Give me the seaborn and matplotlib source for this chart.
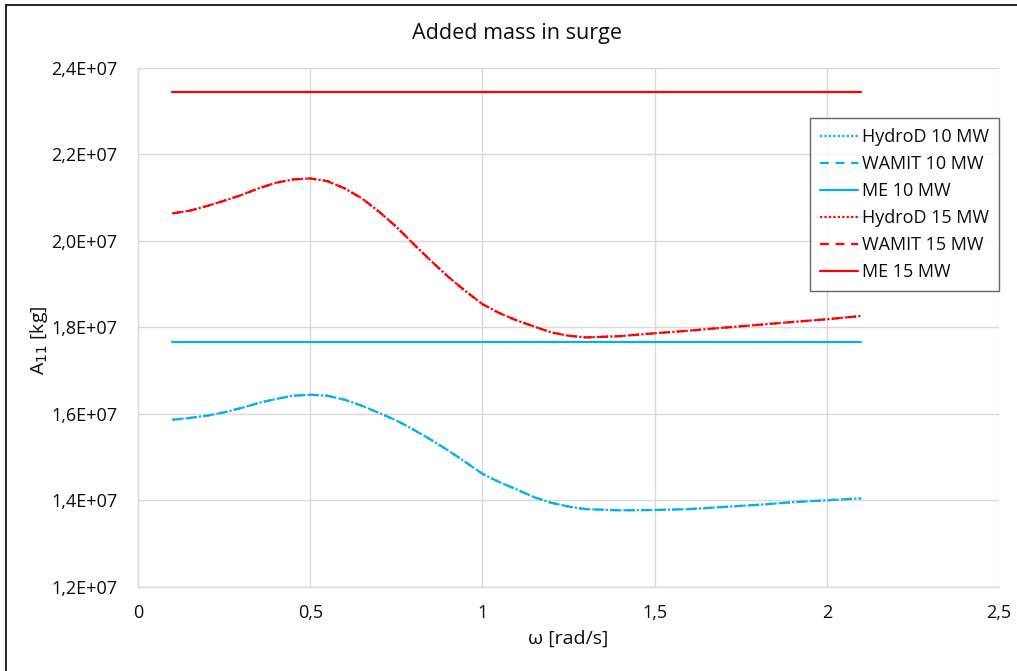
import numpy as np
import pandas as pd
import seaborn as sns
import matplotlib
matplotlib.use("Agg")
import matplotlib.pyplot as plt
from matplotlib.ticker import FuncFormatter, MultipleLocator
from matplotlib.lines import Line2D

# ---- data ----
omega = [0.10, 0.15, 0.20, 0.25, 0.30, 0.35, 0.40, 0.45, 0.50, 0.55, 0.60, 0.65,
         0.70, 0.75, 0.80, 0.85, 0.90, 0.95, 1.00, 1.05, 1.10, 1.15, 1.20, 1.25,
         1.30, 1.40, 1.50, 1.60, 1.70, 1.80, 1.90, 2.00, 2.10]
a11_10mw = [1.5868e7, 1.5908e7, 1.5961e7, 1.6037e7, 1.6138e7, 1.6254e7, 1.6346e7,
            1.6422e7, 1.6445e7, 1.6422e7, 1.6330e7, 1.6191e7, 1.6023e7, 1.5852e7,
            1.5638e7, 1.5407e7, 1.5160e7, 1.4893e7, 1.4616e7, 1.4422e7, 1.4254e7,
            1.4076e7, 1.3947e7, 1.3860e7, 1.3800e7, 1.3773e7, 1.3780e7, 1.3800e7,
            1.3850e7, 1.3900e7, 1.3960e7, 1.4005e7, 1.4050e7]
a11_15mw = [2.0639e7, 2.0700e7, 2.0807e7, 2.0930e7, 2.1061e7, 2.1216e7, 2.1345e7,
            2.1423e7, 2.1446e7, 2.1384e7, 2.1216e7, 2.0985e7, 2.0677e7, 2.0330e7,
            1.9931e7, 1.9546e7, 1.9177e7, 1.8846e7, 1.8540e7, 1.8330e7, 1.8162e7,
            1.8023e7, 1.7885e7, 1.7810e7, 1.7770e7, 1.7800e7, 1.7866e7, 1.7926e7,
            1.7995e7, 1.8060e7, 1.8127e7, 1.8190e7, 1.8266e7]
me_10mw = 1.7665e7
me_15mw = 2.3445e7

series_names = ["HydroD 10 MW", "WAMIT 10 MW", "ME 10 MW",
                "HydroD 15 MW", "WAMIT 15 MW", "ME 15 MW"]
series_values = [a11_10mw, a11_10mw, [me_10mw] * len(omega),
                 a11_15mw, a11_15mw, [me_15mw] * len(omega)]

CYAN = "#00B0F0"
RED = "#FF0000"
colors = [CYAN, CYAN, CYAN, RED, RED, RED]
styles = [(0, (1, 1)), (0, (4, 3)), "-", (0, (1, 1)), (0, (4, 3)), "-"]

df = pd.concat([pd.DataFrame({"omega": omega, "A11": v, "series": n})
                for n, v in zip(series_names, series_values)], ignore_index=True)

sns.set_theme(style="white")
plt.rcParams["font.family"] = ["Open Sans", "DejaVu Sans"]
plt.rcParams["text.color"] = "#0D0D0D"
plt.rcParams["axes.labelcolor"] = "#0D0D0D"

fig = plt.figure(figsize=(10.17, 6.71), dpi=100)
ax = fig.add_axes([0.1357, 0.1252, 0.8466, 0.7735])

LW = 1.6
for n, c, ls in zip(series_names, colors, styles):
    sub = df[df["series"] == n]
    sns.lineplot(data=sub, x="omega", y="A11", ax=ax, color=c, linewidth=LW,
                 linestyle=ls, legend=False)

ax.set_xlim(0, 2.5)
ax.set_ylim(1.2e7, 2.4e7)
ax.xaxis.set_major_locator(MultipleLocator(0.5))
ax.yaxis.set_major_locator(MultipleLocator(0.2e7))

def xfmt(v, pos):
    return ("%g" % round(v, 2)).replace(".", ",")

def yfmt(v, pos):
    return ("%.1E" % v).replace(".", ",")

ax.xaxis.set_major_formatter(FuncFormatter(xfmt))
ax.yaxis.set_major_formatter(FuncFormatter(yfmt))
ax.grid(True, color="#D9D9D9", linewidth=1)
ax.set_axisbelow(True)
for s in ["top", "right"]:
    ax.spines[s].set_visible(False)
for s in ["left", "bottom"]:
    ax.spines[s].set_color("#D9D9D9")
    ax.spines[s].set_linewidth(1)
ax.tick_params(axis="both", labelsize=13, labelcolor="#0D0D0D", length=0)
ax.tick_params(axis="y", pad=15)
ax.tick_params(axis="x", pad=12)
ax.set_xlabel("ω [rad/s]", fontsize=14, labelpad=6)
ax.set_ylabel("A$_{11}$ [kg]", fontsize=14, labelpad=6)
ax.yaxis.set_label_coords(-0.102, 0.475)
fig.text(517 / 1017, 1 - 33 / 671, "Added mass in surge", fontsize=15.5,
         ha="center", va="center")

handles = [Line2D([], [], color=c, linestyle=ls, linewidth=LW)
           for c, ls in zip(colors, styles)]
leg = ax.legend(handles, series_names, loc="upper right",
                bbox_to_anchor=(1.0, 1 - (118 - 68) / 519), borderaxespad=0,
                fontsize=13, frameon=True, fancybox=False, edgecolor="#404040",
                handlelength=2.1, handletextpad=0.25, labelspacing=0.5,
                borderpad=0.55)
leg.get_frame().set_linewidth(1)

# figure border (top and left)
fig.add_artist(Line2D([0.0059, 1.0], [1 - 5 / 671, 1 - 5 / 671], color="black",
                      linewidth=1.2, transform=fig.transFigure))
fig.add_artist(Line2D([0.0059, 0.0059], [0.0, 1 - 5 / 671], color="black",
                      linewidth=1.2, transform=fig.transFigure))

fig.savefig("out.png", dpi=100)
